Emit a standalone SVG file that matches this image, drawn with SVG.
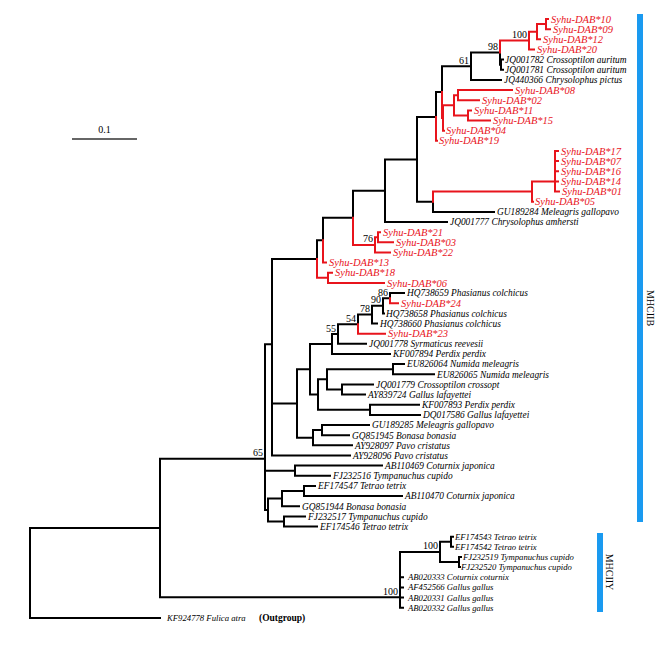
<svg xmlns="http://www.w3.org/2000/svg" width="669" height="645" viewBox="0 0 669 645">
<style>
.b{stroke:#000;stroke-width:2;fill:none;stroke-linecap:square}
.r{stroke:#e8141c;stroke-width:2;fill:none;stroke-linecap:square}
text{font-family:"Liberation Serif","Times New Roman",serif}
.lb{font-style:italic;font-size:9.4px;fill:#000}
.ls{font-style:italic;font-size:8.7px;fill:#000}
.lr{font-style:italic;font-size:10.5px;fill:#e8141c}
.bs{font-size:10px;fill:#000;text-anchor:end}
.grp{font-size:10px;fill:#000;text-anchor:middle}
.bar{fill:#1a9af0}
</style>
<rect width="669" height="645" fill="#fff"/>
<g id="connectors">
<path class="b" d="M30 528V617.9M30 528H160M30 617.9H160M160 458.75V597.25M160 458.75H265M160 597.25H400M400 551.9V607.7M400 551.9H440M400 577.3H403M400 587.4H403M400 597.6H403M400 607.7H403M440 541.75V562.05M440 541.75H451M440 562.05H459M451 536.7V546.8M451 536.7H453M451 546.8H453M459 557V567.1M459 557H461M459 567.1H460M265 344.25V510M265 344.25H272M265 470.7H295M265 510H268M295 465.6V475.8M295 465.6H382M295 475.8H330M268 498.6V521.45M268 498.6H282M268 521.45H284M282 491V506.2M282 491H304M282 506.2H299M304 485.9V496.1M304 485.9H315M304 496.1H402M284 516.4V526.5M284 516.4H305M284 526.5H317M272 259V455.5M272 259H317M272 403.5H297M272 455.5H350M297 369.3V437.7M297 369.3H310M297 437.7H313M313 430.1V445.3M313 430.1H322M313 445.3H352M322 425V435.2M322 425H369M322 435.2H349M310 344V394.6M310 344H332M310 394.6H318M332 334V354M332 334H338M332 354H390M338 324.2V343.8M338 324.2H358M338 343.8H366M358 314.6V324.2M358 314.6H372M372 305.8V323.5M372 305.8H383M372 323.5H377M383 298.15V313.4M383 298.15H390M383 313.4H384M390 293.1V298.15M390 293.1H404M318 379.35V409.8M318 379.35H327M318 409.8H370M327 369.2V389.5M327 369.2H393M327 389.5H342M393 364.1V374.3M393 364.1H404M393 374.3H434M342 384.4V394.6M342 384.4H373M342 394.6H365M370 404.7V414.9M370 404.7H419M370 414.9H420M317 240.2V259M317 240.2H323M323 217.8V240.2M323 217.8H353M353 190.7V217.8M353 190.7H385M385 159.4V222M385 159.4H417M385 222H447M417 117V201.8M417 117H436M417 201.8H433M433 201.8V211.9M433 211.9H494M436 92V117M436 92H442M442 66.3V92M442 66.3H471M471 52.6V79.9M471 52.6H500M471 79.9H501M500 52.6V64.7M500 64.7H501M501 59.6V69.8M501 59.6H503M501 69.8H503"/>
<path class="r" d="M358 324.2V333.7M358 333.7H385M390 298.15V303.2M390 303.2H398M317 259V277.85M317 277.85H328M328 272.8V282.9M328 272.8H332M328 282.9H384M323 240.2V262.6M323 262.6H326M353 217.8V244.9M353 244.9H375M375 237.25V252.5M375 237.25H378M375 252.5H390M378 232.2V242.3M378 232.2H380M378 242.3H393M433 191.6V201.8M433 191.6H532M532 181.6V201.7M532 181.6H555M532 201.7H533M555 151V191.6M555 151H558M555 161.1H558M555 171.3H558M555 181.4H558M555 191.6H559M436 117V140.8M436 140.8H437M442 92V118M442 118H443M443 105.3V130.7M443 105.3H454M443 130.7H444M454 95.15V115.45M454 95.15H458M454 115.45H468M458 90.1V100.2M458 90.1H512M458 100.2H479M468 110.4V120.5M468 110.4H471M468 120.5H490M500 40.6V52.6M500 40.6H529M529 31.7V49.5M529 31.7H537M529 49.5H534M537 24.1V39.3M537 24.1H546M537 39.3H540M546 19V29.15M546 19H548M546 29.15H550"/>
</g>
<g id="scale"><path d="M72 139H137" stroke="#333" stroke-width="1.5"/><text class="grp" x="104.5" y="133">0.1</text></g>
<g id="bootstrap">
<text class="bs" x="527" y="38">100</text>
<text class="bs" x="498" y="50">98</text>
<text class="bs" x="469" y="64">61</text>
<text class="bs" x="373" y="242">76</text>
<text class="bs" x="388" y="295.5">86</text>
<text class="bs" x="381" y="303">90</text>
<text class="bs" x="370" y="312">78</text>
<text class="bs" x="356" y="322">54</text>
<text class="bs" x="336" y="331.5">55</text>
<text class="bs" x="263" y="456">65</text>
<text class="bs" x="438" y="549">100</text>
<text class="bs" x="398" y="594.5">100</text>
</g>
<g id="n-dab10"><text class="lr" x="551" y="22.6">Syhu-DAB*10</text></g>
<g id="n-dab09"><text class="lr" x="553" y="32.8">Syhu-DAB*09</text></g>
<g id="n-dab12"><text class="lr" x="543" y="42.9">Syhu-DAB*12</text></g>
<g id="n-dab20"><text class="lr" x="537" y="53.1">Syhu-DAB*20</text></g>
<g id="n-jq001782"><text class="lb" x="505" y="62.9">JQ001782 Crossoptilon auritum</text></g>
<g id="n-jq001781"><text class="lb" x="505" y="73.1">JQ001781 Crossoptilon auritum</text></g>
<g id="n-jq440366"><text class="lb" x="504" y="83.2">JQ440366 Chrysolophus pictus</text></g>
<g id="n-dab08"><text class="lr" x="515" y="93.7">Syhu-DAB*08</text></g>
<g id="n-dab02"><text class="lr" x="482" y="103.8">Syhu-DAB*02</text></g>
<g id="n-dab11"><text class="lr" x="474" y="114">Syhu-DAB*11</text></g>
<g id="n-dab15"><text class="lr" x="493" y="124.1">Syhu-DAB*15</text></g>
<g id="n-dab04"><text class="lr" x="446" y="134.3">Syhu-DAB*04</text></g>
<g id="n-dab19"><text class="lr" x="439" y="144.4">Syhu-DAB*19</text></g>
<g id="n-dab17"><text class="lr" x="561" y="154.6">Syhu-DAB*17</text></g>
<g id="n-dab07"><text class="lr" x="561" y="164.7">Syhu-DAB*07</text></g>
<g id="n-dab16"><text class="lr" x="561" y="174.9">Syhu-DAB*16</text></g>
<g id="n-dab14"><text class="lr" x="561" y="185">Syhu-DAB*14</text></g>
<g id="n-dab01"><text class="lr" x="562" y="195.2">Syhu-DAB*01</text></g>
<g id="n-dab05"><text class="lr" x="535" y="205.3">Syhu-DAB*05</text></g>
<g id="n-gu189284"><text class="lb" x="497" y="215.2">GU189284 Meleagris gallopavo</text></g>
<g id="n-jq001777"><text class="lb" x="450" y="225.3">JQ001777 Chrysolophus amhersti</text></g>
<g id="n-dab21"><text class="lr" x="383" y="235.8">Syhu-DAB*21</text></g>
<g id="n-dab03"><text class="lr" x="396" y="245.9">Syhu-DAB*03</text></g>
<g id="n-dab22"><text class="lr" x="393" y="256.1">Syhu-DAB*22</text></g>
<g id="n-dab13"><text class="lr" x="329" y="266.2">Syhu-DAB*13</text></g>
<g id="n-dab18"><text class="lr" x="335" y="276.4">Syhu-DAB*18</text></g>
<g id="n-dab06"><text class="lr" x="387" y="286.5">Syhu-DAB*06</text></g>
<g id="n-hq738659"><text class="lb" x="407" y="296.4">HQ738659 Phasianus colchicus</text></g>
<g id="n-dab24"><text class="lr" x="401" y="306.8">Syhu-DAB*24</text></g>
<g id="n-hq738658"><text class="lb" x="386" y="316.7">HQ738658 Phasianus colchicus</text></g>
<g id="n-hq738660"><text class="lb" x="380" y="326.8">HQ738660 Phasianus colchicus</text></g>
<g id="n-dab23"><text class="lr" x="388" y="337.3">Syhu-DAB*23</text></g>
<g id="n-jq001778"><text class="lb" x="369" y="347.1">JQ001778 Syrmaticus reevesii</text></g>
<g id="n-kf007894"><text class="lb" x="393" y="357.3">KF007894 Perdix perdix</text></g>
<g id="n-eu826064"><text class="lb" x="407" y="367.4">EU826064 Numida meleagris</text></g>
<g id="n-eu826065"><text class="lb" x="437" y="377.6">EU826065 Numida meleagris</text></g>
<g id="n-jq001779"><text class="lb" x="376" y="387.7">JQ001779 Crossoptilon crossopt</text></g>
<g id="n-ay839724"><text class="lb" x="368" y="397.9">AY839724 Gallus lafayettei</text></g>
<g id="n-kf007893"><text class="lb" x="422" y="408">KF007893 Perdix perdix</text></g>
<g id="n-dq017586"><text class="lb" x="423" y="418.2">DQ017586 Gallus lafayettei</text></g>
<g id="n-gu189285"><text class="lb" x="372" y="428.3">GU189285 Meleagris gallopavo</text></g>
<g id="n-gq851945"><text class="lb" x="352" y="438.5">GQ851945 Bonasa bonasia</text></g>
<g id="n-ay928097"><text class="lb" x="355" y="448.6">AY928097 Pavo cristatus</text></g>
<g id="n-ay928096"><text class="lb" x="353" y="458.8">AY928096 Pavo cristatus</text></g>
<g id="n-ab110469"><text class="lb" x="385" y="468.9">AB110469 Coturnix japonica</text></g>
<g id="n-fj232516"><text class="lb" x="333" y="479.1">FJ232516 Tympanuchus cupido</text></g>
<g id="n-ef174547"><text class="lb" x="318" y="489.2">EF174547 Tetrao tetrix</text></g>
<g id="n-ab110470"><text class="lb" x="405" y="499.4">AB110470 Coturnix japonica</text></g>
<g id="n-gq851944"><text class="lb" x="302" y="509.5">GQ851944 Bonasa bonasia</text></g>
<g id="n-fj232517"><text class="lb" x="308" y="519.7">FJ232517 Tympanuchus cupido</text></g>
<g id="n-ef174546"><text class="lb" x="320" y="529.8">EF174546 Tetrao tetrix</text></g>
<g id="n-ef174543"><text class="ls" x="455" y="539.7">EF174543 Tetrao tetrix</text></g>
<g id="n-ef174542"><text class="ls" x="455" y="549.8">EF174542 Tetrao tetrix</text></g>
<g id="n-fj232519"><text class="ls" x="463" y="560">FJ232519 Tympanuchus cupido</text></g>
<g id="n-fj232520"><text class="ls" x="461" y="570.1">FJ232520 Tympanuchus cupido</text></g>
<g id="n-ab020333"><text class="ls" x="408" y="580.3">AB020333 Coturnix coturnix</text></g>
<g id="n-af452566"><text class="ls" x="408" y="590.4">AF452566 Gallus gallus</text></g>
<g id="n-ab020331"><text class="ls" x="408" y="600.6">AB020331 Gallus gallus</text></g>
<g id="n-ab020332"><text class="ls" x="408" y="610.7">AB020332 Gallus gallus</text></g>
<g id="n-kf924778"><text class="ls" x="167" y="620.9">KF924778 Fulica atra</text><text x="259" y="621.2" font-size="9.5" font-weight="bold">(Outgroup)</text></g>
<g id="g-mhciib"><rect class="bar" x="637" y="14" width="6" height="508"/><text class="grp" transform="translate(646.5 308) rotate(90)">MHCIIB</text></g>
<g id="g-mhciiy"><rect class="bar" x="597" y="533" width="6" height="79"/><text class="grp" transform="translate(606 572) rotate(90)">MHCIIY</text></g>
</svg>
